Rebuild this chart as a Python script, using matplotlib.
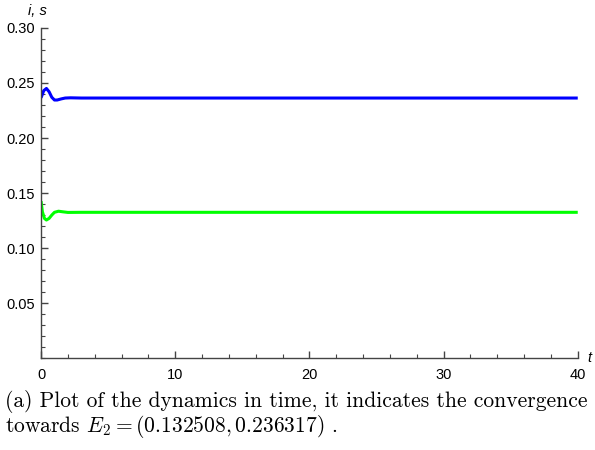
import matplotlib
matplotlib.use("Agg")
import matplotlib.pyplot as plt
from matplotlib.ticker import MultipleLocator

# data
t_s = [0, 0.2, 0.4, 0.6, 0.8, 1.0, 1.2, 1.5, 1.8, 2.2, 3, 40]
s_vals = [0.2365, 0.2430, 0.2450, 0.2420, 0.2370, 0.2345, 0.2345, 0.2355, 0.2363, 0.2365, 0.2363, 0.2363]
t_i = [0, 0.1, 0.25, 0.4, 0.6, 0.8, 1.0, 1.3, 1.6, 2.0, 3, 40]
i_vals = [0.1427, 0.1330, 0.1270, 0.1255, 0.1270, 0.1300, 0.1325, 0.1335, 0.1330, 0.1324, 0.1325, 0.1325]
x_ticks = [0, 10, 20, 30, 40]
y_ticks = [0.05, 0.10, 0.15, 0.20, 0.25, 0.30]

plt.rcParams['mathtext.fontset'] = 'cm'
axc = '#444444'

fig = plt.figure(figsize=(5.95, 4.5), dpi=100)
ax = fig.add_axes([0.069, 0.204, 0.902, 0.734])
ax.plot(t_s, s_vals, color='#0000ff', lw=2.2, solid_capstyle='butt')
ax.plot(t_i, i_vals, color='#00ff00', lw=2.2, solid_capstyle='butt')
ax.set_xlim(0, 40)
ax.set_ylim(0, 0.30)
ax.set_xticks(x_ticks)
ax.set_yticks(y_ticks)
ax.set_xticklabels([str(v) for v in x_ticks])
ax.set_yticklabels([f"{v:.2f}" for v in y_ticks])
ax.xaxis.set_minor_locator(MultipleLocator(2))
ax.yaxis.set_minor_locator(MultipleLocator(0.01))
for side in ('top', 'right'):
    ax.spines[side].set_visible(False)
for side in ('left', 'bottom'):
    ax.spines[side].set_color(axc)
    ax.spines[side].set_linewidth(1.0)
ax.tick_params(which='both', direction='in', color=axc, labelcolor='black',
               labelsize=10.5, labelfontfamily='Liberation Sans')
ax.tick_params(which='major', length=5, width=1.0)
ax.tick_params(which='minor', length=3, width=0.8)
ax.tick_params(axis='x', which='major', pad=7)
ax.tick_params(axis='y', which='major', pad=4.5)
ax.text(-0.006, 1.03, 'i, s', transform=ax.transAxes, ha='center', va='bottom',
        fontsize=10.5, style='italic', family='Liberation Sans')
ax.text(1.018, 0.0, 't', transform=ax.transAxes, ha='left', va='center',
        fontsize=10.5, style='italic', family='Liberation Sans')

fig.text(0.008, 0.0956, '(a) Plot of the dynamics in time, it indicates the convergence',
         family='cmr10', fontsize=15.5, va='baseline', ha='left')
fig.text(0.008, 0.040, r'towards $E_2 = (0.132508, 0.236317)$ .',
         family='cmr10', fontsize=15.5, va='baseline', ha='left')

fig.savefig('out.png', dpi=100)
